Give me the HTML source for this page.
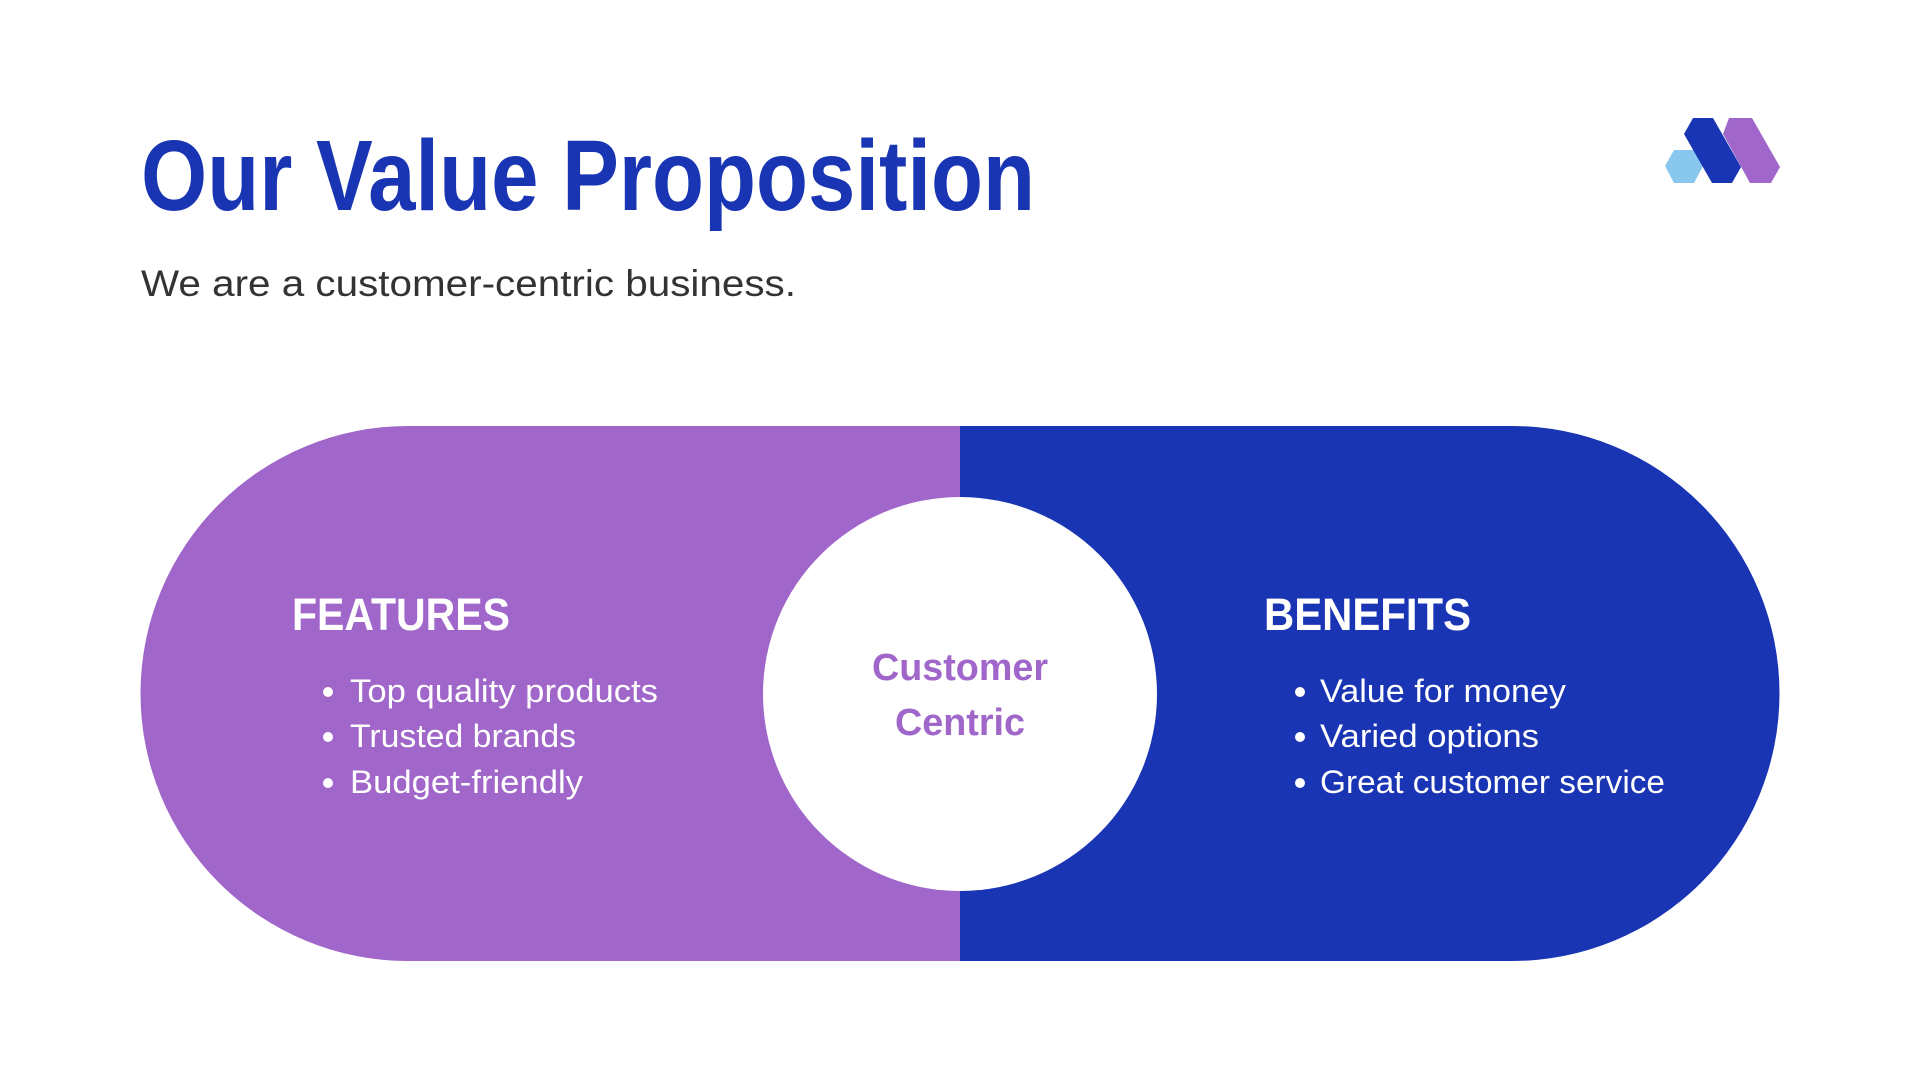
<!DOCTYPE html>
<html><head><meta charset="utf-8"><style>
html,body{margin:0;padding:0;background:#fff;}
svg{display:block;}
text{font-family:"Liberation Sans",sans-serif;}
</style></head><body>
<svg width="1920" height="1080" viewBox="0 0 1920 1080">
<text x="141" y="210" font-size="100" font-weight="bold" fill="#1935B3" textLength="894" lengthAdjust="spacingAndGlyphs">Our Value Proposition</text>
<text x="141" y="296" font-size="37" fill="#333" textLength="655" lengthAdjust="spacingAndGlyphs">We are a customer-centric business.</text>
<g>
<polygon points="1674,150 1694,150 1703,166 1694,183 1674,183 1665,166" fill="#88C8EE"/>
<polygon points="1693,118 1713,118 1741,167 1732,183 1712,183 1684,134" fill="#1935B3"/>
<polygon points="1729,118 1752,118 1780,167 1771,183 1750,183 1723,134" fill="#A066CA"/>
</g>
<path d="M960,426 L408,426 A267.5,267.5 0 0 0 408,961 L960,961 Z" fill="#A066CA"/>
<path d="M960,426 L1512,426 A267.5,267.5 0 0 1 1512,961 L960,961 Z" fill="#1935B3"/>
<circle cx="960" cy="694" r="197" fill="#fff"/>
<text x="960" y="680" text-anchor="middle" font-size="38" font-weight="bold" fill="#A066CA" textLength="176" lengthAdjust="spacingAndGlyphs">Customer</text>
<text x="960" y="735" text-anchor="middle" font-size="38" font-weight="bold" fill="#A066CA" textLength="130" lengthAdjust="spacingAndGlyphs">Centric</text>
<text x="292" y="630" font-size="45" font-weight="bold" fill="#fff" textLength="218" lengthAdjust="spacingAndGlyphs">FEATURES</text>
<g fill="#fff" font-size="32">
<circle cx="328" cy="692" r="5"/><text x="350" y="702" textLength="308" lengthAdjust="spacingAndGlyphs">Top quality products</text>
<circle cx="328" cy="737" r="5"/><text x="350" y="747" textLength="226" lengthAdjust="spacingAndGlyphs">Trusted brands</text>
<circle cx="328" cy="783" r="5"/><text x="350" y="793" textLength="233" lengthAdjust="spacingAndGlyphs">Budget-friendly</text>
</g>
<text x="1264" y="630" font-size="45" font-weight="bold" fill="#fff" textLength="207" lengthAdjust="spacingAndGlyphs">BENEFITS</text>
<g fill="#fff" font-size="32">
<circle cx="1300" cy="692" r="5"/><text x="1320" y="702" textLength="246" lengthAdjust="spacingAndGlyphs">Value for money</text>
<circle cx="1300" cy="737" r="5"/><text x="1320" y="747" textLength="219" lengthAdjust="spacingAndGlyphs">Varied options</text>
<circle cx="1300" cy="783" r="5"/><text x="1320" y="793" textLength="345" lengthAdjust="spacingAndGlyphs">Great customer service</text>
</g>
</svg>
</body></html>
